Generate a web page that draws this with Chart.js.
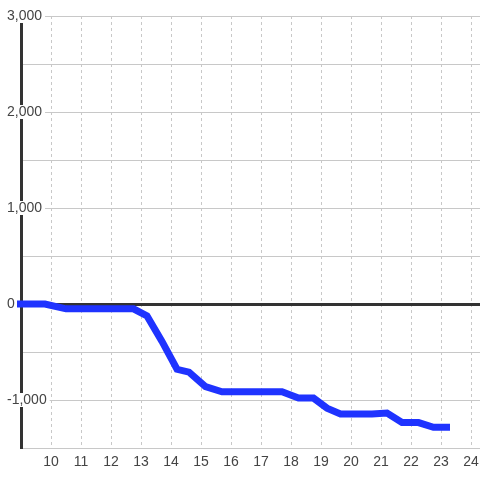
<!DOCTYPE html>
<html>
<head>
<meta charset="utf-8">
<script src="https://cdn.jsdelivr.net/npm/chart.js@4"></script>
<style>
  html, body { margin: 0; padding: 0; background: #ffffff; }
  #wrap { width: 480px; height: 480px; }
</style>
</head>
<body>
<div id="wrap"><canvas id="pnl"></canvas></div>
<script>
// hour of day and running value
const hours = [8.5, 9.8, 10.5, 12.75, 13.2, 13.7, 14.2, 14.6, 15.15, 15.7, 17.7, 18.25, 18.75, 19.2, 19.65, 20.7, 21.2, 21.7, 22.25, 22.75, 23.3];
const values = [0, 0, -50, -50, -125, -390, -680, -710, -860, -915, -915, -980, -980, -1085, -1145, -1145, -1135, -1235, -1235, -1285, -1285];

const xTicks = [10, 11, 12, 13, 14, 15, 16, 17, 18, 19, 20, 21, 22, 23, 24];
const yGrid = [-1500, -1000, -500, 0, 500, 1000, 1500, 2000, 2500, 3000];
const yLabels = [-1000, 0, 1000, 2000, 3000];

document.addEventListener("DOMContentLoaded", function() {
    const points = hours.map((h, i) => ({x: h, y: values[i]}));

    const ctx = document.getElementById("pnl").getContext("2d");

    new Chart(ctx, {
        type: "line",
        data: {
            datasets: [{
                data: points,
                borderColor: "#1f33ff",
                borderWidth: 7,
                pointRadius: 0,
                tension: 0,
                fill: false,
                clip: { left: 4, right: 4, top: 4, bottom: 4 }
            }]
        },
        options: {
            responsive: true,
            maintainAspectRatio: false,
            animation: false,
            layout: { padding: { top: 16, left: 7, right: 0, bottom: 0 } },
            plugins: {
                legend: { display: false },
                tooltip: { enabled: false }
            },
            scales: {
                x: {
                    type: "linear",
                    min: 9,
                    max: 24.3,
                    afterBuildTicks: s => { s.ticks = xTicks.map(v => ({value: v})); },
                    afterFit: s => { s.height = 32; s.paddingLeft = 0; s.paddingRight = 0; },
                    border: { display: false, dash: [3, 3] },
                    grid: { color: "#c8c8c8", lineWidth: 1, drawTicks: false },
                    ticks: {
                        padding: 6,
                        maxRotation: 0,
                        color: "#444",
                        font: { family: "Liberation Sans", size: 14 },
                        callback: v => String(v)
                    }
                },
                y: {
                    min: -1500,
                    max: 3000,
                    afterBuildTicks: s => { s.ticks = yGrid.map(v => ({value: v})); },
                    afterFit: s => { s.width = 14; },
                    border: { display: true, color: "#333", width: 3 },
                    grid: {
                        color: c => (c.tick && c.tick.value === 0) ? "#333" : "#c8c8c8",
                        lineWidth: c => (c.tick && c.tick.value === 0) ? 3 : 1,
                        drawTicks: false
                    },
                    ticks: {
                        mirror: true,
                        padding: -14,
                        color: "#444",
                        font: { family: "Liberation Sans", size: 14, lineHeight: 1 },
                        showLabelBackdrop: true,
                        backdropColor: "#ffffff",
                        backdropPadding: { top: 0, bottom: 0, left: 2, right: 3 },
                        callback: v => yLabels.includes(v) ? v.toLocaleString("en-US") : ""
                    }
                }
            }
        }
    });
});
</script>
</body>
</html>
